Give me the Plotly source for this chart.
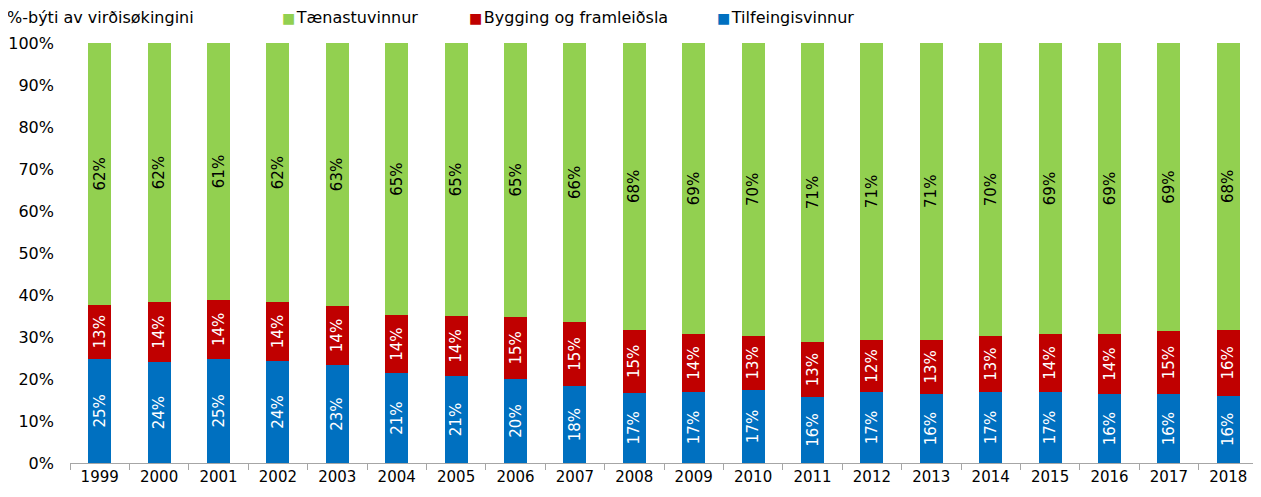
import plotly.graph_objects as go

years = [str(y) for y in range(1999, 2019)]
tilfeingis = [24.8, 24.0, 24.8, 24.3, 23.3, 21.4, 20.7, 20.0, 18.3, 16.7,
              16.9, 17.4, 15.7, 16.9, 16.4, 16.9, 16.9, 16.4, 16.4, 16.0]
bygging = [12.9, 14.3, 14.0, 14.0, 14.1, 13.8, 14.3, 14.8, 15.3, 15.0,
           13.8, 12.9, 13.1, 12.4, 13.0, 13.3, 13.8, 14.3, 15.0, 15.7]
taenastu = [62.3, 61.7, 61.2, 61.7, 62.6, 64.8, 65.0, 65.2, 66.4, 68.3,
            69.3, 69.7, 71.2, 70.7, 70.6, 69.8, 69.3, 69.3, 68.6, 68.3]

FONT = "DejaVu Sans"
# page body has an 8px margin, so the figure is offset by 8px
OFF = 8
W, H = 1261 - OFF, 497 - OFF
L, R, T, B = 62, 3, 35, 34
PW = W - L - R
PH = H - T - B
TOPY = 1 + (T - 10) / PH

series = [
    ("Tilfeingisvinnur", tilfeingis, "#0070C0", "white", 718),
    ("Bygging og framleiðsla", bygging, "#C00000", "white", 470),
    ("Tænastuvinnur", taenastu, "#92D050", "black", 283),
]

fig = go.Figure()
for name, vals, col, tcol, legx in series:
    fig.add_trace(go.Bar(
        x=years, y=vals, name=name, marker_color=col, marker_line_width=0,
        texttemplate="%{y:.0f}%", textposition="inside", textangle=-90,
        insidetextanchor="middle", constraintext="none",
        textfont=dict(family=FONT, size=15, color=tcol),
        showlegend=False,
    ))
    # legend entry (square + label) at the reference position
    fig.add_annotation(
        text=f"<span style='color:{col};font-size:14px'>■</span><span style='font-size:5px'> </span>{name}",
        xref="paper", yref="paper", x=(legx - OFF - 3 - L) / PW, y=TOPY,
        xanchor="left", yanchor="middle", showarrow=False,
        font=dict(family=FONT, size=16, color="black"))

fig.update_layout(
    barmode="stack", bargap=0.61,
    width=W, height=H,
    margin=dict(l=L, r=R, t=T, b=B, autoexpand=False),
    paper_bgcolor="white", plot_bgcolor="white",
    font=dict(family=FONT, size=16, color="black"),
    uniformtext=dict(minsize=15, mode="show"),
)
fig.update_xaxes(type="category", showline=True, linecolor="#A6A6A6", linewidth=1,
                 ticks="outside", tickson="boundaries", ticklen=6, tickcolor="#A6A6A6",
                 showgrid=False, automargin=False, tickfont=dict(family=FONT, size=15))
fig.update_yaxes(range=[0, 100], dtick=10, ticksuffix="%", showgrid=False,
                 showline=False, zeroline=False, ticks="", ticklabelstandoff=15,
                 automargin=False, tickfont=dict(family=FONT, size=16))
fig.add_annotation(text="%-býti av virðisøkingini", xref="paper", yref="paper",
                   x=(-3 - L) / PW, y=TOPY, xanchor="left",
                   yanchor="middle", showarrow=False, font=dict(family=FONT, size=16))

fig.write_html("out.html")
